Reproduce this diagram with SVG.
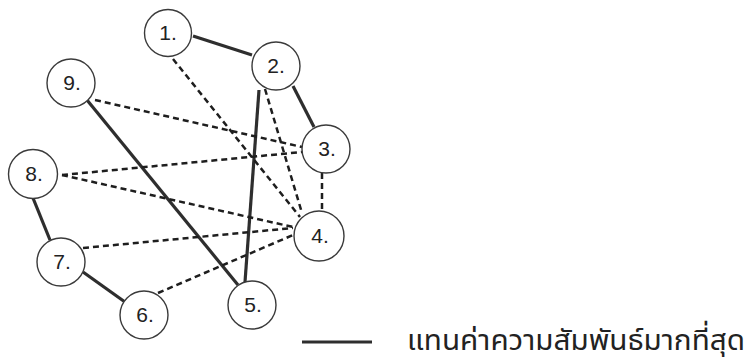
<svg xmlns="http://www.w3.org/2000/svg" width="753" height="363" viewBox="0 0 753 363">
<style>
.node circle{fill:#fff;stroke:#3a3a3a;stroke-width:1.4}
.node text{font-family:"Liberation Sans",Arial,sans-serif;font-size:21px;fill:#222;text-anchor:middle}
.solid{stroke:#2e2e2e;stroke-width:3.2;fill:none;stroke-linecap:butt}
.dash{stroke:#1e1e1e;stroke-width:2.5;fill:none;stroke-dasharray:6 4}
.legend{font-family:"Noto Sans Thai","Noto Sans","DejaVu Sans",sans-serif;font-size:29px;fill:#222}
</style>
<rect width="753" height="363" fill="#fff"/>
<g id="connectors">
<line class="solid" x1="193" y1="36" x2="252" y2="55"/>
<line class="solid" x1="293" y1="86" x2="314" y2="127"/>
<line class="solid" x1="259" y1="90" x2="245" y2="282"/>
<line class="solid" x1="87" y1="100" x2="238" y2="285"/>
<line class="solid" x1="33" y1="198" x2="50" y2="240"/>
<line class="solid" x1="83" y1="272" x2="125" y2="302"/>
<line class="dash" x1="173" y1="59" x2="300" y2="217"/>
<line class="dash" x1="265" y1="89" x2="302" y2="213"/>
<line class="dash" x1="95" y1="100" x2="302" y2="147"/>
<line class="dash" x1="62" y1="175" x2="302" y2="152"/>
<line class="dash" x1="62" y1="175" x2="293" y2="227"/>
<line class="dash" x1="322" y1="173" x2="322" y2="211"/>
<line class="dash" x1="83" y1="248" x2="293" y2="228"/>
<line class="dash" x1="158" y1="293" x2="293" y2="235"/>
</g>
<g id="n1" class="node"><circle cx="168" cy="33" r="23.5"/><text x="168" y="40">1.</text></g>
<g id="n2" class="node"><circle cx="276" cy="66" r="24"/><text x="276" y="73">2.</text></g>
<g id="n3" class="node"><circle cx="326" cy="149" r="24"/><text x="327" y="156">3.</text></g>
<g id="n4" class="node"><circle cx="319" cy="236" r="25"/><text x="320" y="243">4.</text></g>
<g id="n5" class="node"><circle cx="252" cy="305" r="24"/><text x="253" y="312">5.</text></g>
<g id="n6" class="node"><circle cx="144" cy="315" r="24"/><text x="145" y="322">6.</text></g>
<g id="n7" class="node"><circle cx="61" cy="262" r="24"/><text x="62" y="269">7.</text></g>
<g id="n8" class="node"><circle cx="33" cy="174" r="24.5"/><text x="34" y="181">8.</text></g>
<g id="n9" class="node"><circle cx="71" cy="83" r="24"/><text x="72" y="90">9.</text></g>
<g id="legend">
<line class="solid" x1="302" y1="342" x2="372" y2="342"/>
<text class="legend" x="407" y="350" textLength="338" lengthAdjust="spacingAndGlyphs">แทนค่าความสัมพันธ์มากที่สุด</text>
</g>
</svg>
